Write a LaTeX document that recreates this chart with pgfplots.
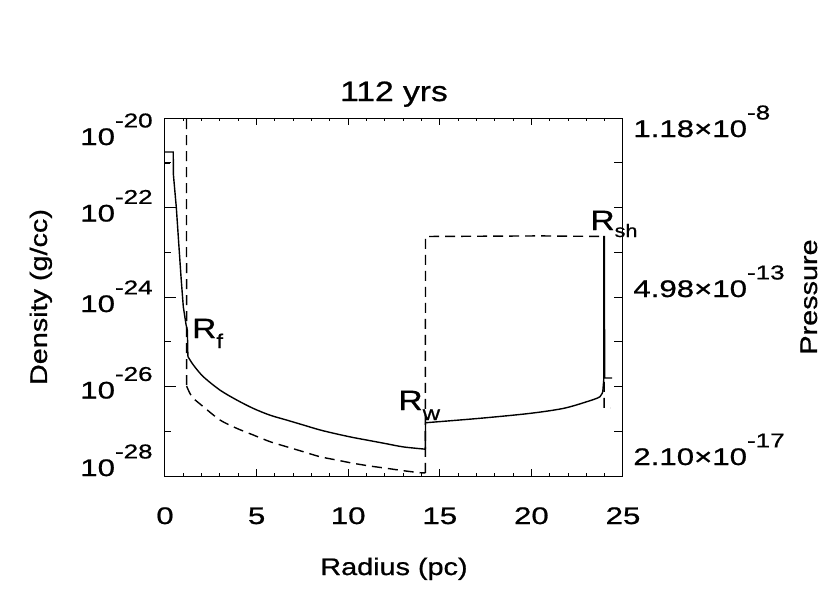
\documentclass[border=0pt]{standalone}
\usepackage{fontspec}
\setmainfont{Liberation Sans}[FakeStretch=1.2, FakeBold=0.8]
\newfontfamily\tickfont{Liberation Sans}[FakeStretch=1.3, FakeBold=0.8]
\usepackage{pgfplots}
\pgfplotsset{compat=1.18}
\usepackage{pgfplotstable}

\newcommand{\ex}[1]{\raisebox{8.8pt}{\fontsize{10}{10}\selectfont #1}}
\newcommand{\lt}[2]{\raisebox{#1}{\tickfont\fontsize{12}{12}\selectfont 10\ex{-#2}}}
\newcommand{\rt}[3]{\raisebox{#1}{\tickfont\fontsize{12}{12}\selectfont #2×10\ex{-#3}}}

% density: inner wind region (straight)
\pgfplotstableread{
x y
0.00 1.74e-21
0.45 1.74e-21
0.46 5.37e-22
0.62 9.77e-23
0.75 1.58e-23
0.88 2.63e-24
1.00 6.03e-25
1.15 2.40e-25
1.22 1.82e-25
1.25 4.68e-26
}\densA
% density: shocked wind (smooth)
\pgfplotstableread{
x y
1.25 4.68e-26
1.55 3.02e-26
2.09 1.66e-26
3.00 8.32e-27
3.91 5.01e-27
4.82 3.24e-27
5.73 2.29e-27
6.64 1.78e-27
7.55 1.38e-27
8.46 1.07e-27
9.37 8.71e-28
10.28 7.24e-28
11.19 6.17e-28
12.10 5.25e-28
13.01 4.47e-28
14.21 3.98e-28
}\densB
% density: shell (smooth)
\pgfplotstableread{
x y
14.22 1.55e-27
17.20 1.95e-27
19.92 2.51e-27
21.74 3.24e-27
23.02 4.57e-27
23.74 5.89e-27
23.90 7.94e-27
}\densC
% density: shock and ambient (straight)
\pgfplotstableread{
x y
23.90 7.94e-27
23.95 1.41e-26
23.96 2.24e-23
23.98 2.24e-23
24.00 1.55e-26
24.40 1.55e-26
}\densD

% pressure
\pgfplotstableread{
x y
1.17 1.0e-6
1.18 3.30e-15
}\presA
\pgfplotstableread{
x y
1.18 3.30e-15
1.36 2.20e-15
1.55 1.66e-15
2.09 1.04e-15
3.00 4.91e-16
3.91 3.08e-16
4.82 2.11e-16
5.73 1.45e-16
6.64 1.09e-16
7.55 8.24e-17
8.46 6.22e-17
9.37 5.16e-17
10.28 4.29e-17
11.19 3.68e-17
12.10 3.24e-17
13.01 2.83e-17
13.92 2.53e-17
14.21 2.51e-17
}\presB
\pgfplotstableread{
x y
14.21 2.51e-17
14.22 1.50e-11
20.50 1.55e-11
23.95 1.50e-11
23.97 9.64e-16
24.30 9.64e-16
}\presC

\pgfplotsset{commonax/.style={scale only axis, width=229pt, height=179pt,
  xmin=0, xmax=25, at={(0,0)}, anchor=south west,
  every tick/.style={black, line width=0.5pt}}}

\begin{document}
\begin{tikzpicture}
\path[use as bounding box] (-82.5pt,-59pt) rectangle (332.5pt,238pt);

% frame, x axis, density
\begin{axis}[commonax, clip mode=individual,
  ymode=log, ymin=1e-28, ymax=1e-20, ytick=\empty, minor y tick style={draw=none},
  axis line style={line width=0.5pt, black},
  xtick={0,5,10,15,20,25}, xticklabels={0,5,10,15,20,25}, minor x tick num=4,
  major tick length=3.5pt, minor tick length=1.5pt,
  xticklabel style={font=\tickfont\fontsize{12}{12}\selectfont, anchor=base, inner sep=0pt, yshift=-24pt},
  xlabel={Radius (pc)},
  xlabel style={at={(axis description cs:0.5,0)}, anchor=base, yshift=-49.5pt, font=\fontsize{12}{12}\selectfont},
  title={112 yrs},
  title style={at={(axis description cs:0.5,1)}, anchor=base, yshift=2.5pt, font=\fontsize{14}{14}\selectfont},
  ylabel={Density (g/cc)},
  ylabel style={at={([xshift=-59pt]axis description cs:0,0.5)}, anchor=base, font=\fontsize{12}{12}\selectfont},
]
\addplot[black, line width=0.7pt] table[x=x,y=y] {\densA};
\addplot[black, line width=0.7pt, smooth] table[x=x,y=y] {\densB};
\addplot[black, line width=0.7pt] coordinates {(14.21,3.98e-28) (14.22,1.55e-27)};
\addplot[black, line width=0.7pt, smooth] table[x=x,y=y] {\densC};
\addplot[black, line width=0.7pt] table[x=x,y=y] {\densD};
\addplot[black, line width=0.7pt] coordinates {(0,9.77e-22) (0.27,9.77e-22)};
\node[anchor=base west, inner sep=0pt, font=\fontsize{14}{14}\selectfont] at (axis cs:1.46,1.21e-25) {R\raisebox{-5pt}{\fontsize{10}{10}\selectfont f}};
\node[anchor=base west, inner sep=0pt, font=\fontsize{14}{14}\selectfont] at (axis cs:12.72,2.98e-27) {R\raisebox{-5pt}{\fontsize{10}{10}\selectfont w}};
\node[anchor=base west, inner sep=0pt, font=\fontsize{14}{14}\selectfont] at (axis cs:23.2,3.14e-23) {R\raisebox{-3.5pt}{\fontsize{9}{9}\selectfont sh}};
\end{axis}

% left density ticks
\begin{axis}[commonax,
  ymode=log, ymin=1e-28, ymax=1e-20,
  axis line style={draw=none}, xtick=\empty,
  ytick={1e-28,1e-26,1e-24,1e-22,1e-20},
  minor ytick={1e-27,1e-25,1e-23,1e-21},
  ytick pos=left,
  major tick length=5.5pt, minor tick length=3pt,
  yticklabels={\lt{0pt}{28},\lt{-6pt}{26},\lt{-7.5pt}{24},\lt{-7pt}{22},\lt{-13.5pt}{20}},
  yticklabel style={anchor=base east, inner sep=0pt, xshift=-6pt},
]
\end{axis}

% right pressure axis
\begin{axis}[commonax,
  ymode=log, ymin=2.10e-17, ymax=1.18e-8,
  axis line style={draw=none}, xtick=\empty,
  ytick={2.1002e-17,2.606e-16,3.234e-15,4.012e-14,4.978e-13,6.177e-12,7.664e-11,9.510e-10,1.1798e-8},
  minor y tick style={draw=none},
  ytick pos=right, yticklabel pos=right,
  major tick length=4.5pt,
  yticklabels={\rt{5.5pt}{2.10}{17},,,,\rt{0pt}{4.98}{13},,,,\rt{-9.5pt}{1.18}{8}},
  yticklabel style={anchor=base west, inner sep=0pt, xshift=5pt},
  ylabel={Pressure},
  ylabel style={at={([xshift=97pt]axis description cs:1,0.5)}, anchor=base, font=\fontsize{12}{12}\selectfont},
]
\addplot[black, line width=0.7pt, dash pattern=on 5pt off 3pt] table[x=x,y=y] {\presA};
\addplot[black, line width=0.7pt, dash pattern=on 5pt off 3pt, smooth] table[x=x,y=y] {\presB};
\addplot[black, line width=0.7pt, dash pattern=on 5pt off 3pt] table[x=x,y=y] {\presC};
\end{axis}
\end{tikzpicture}
\end{document}
